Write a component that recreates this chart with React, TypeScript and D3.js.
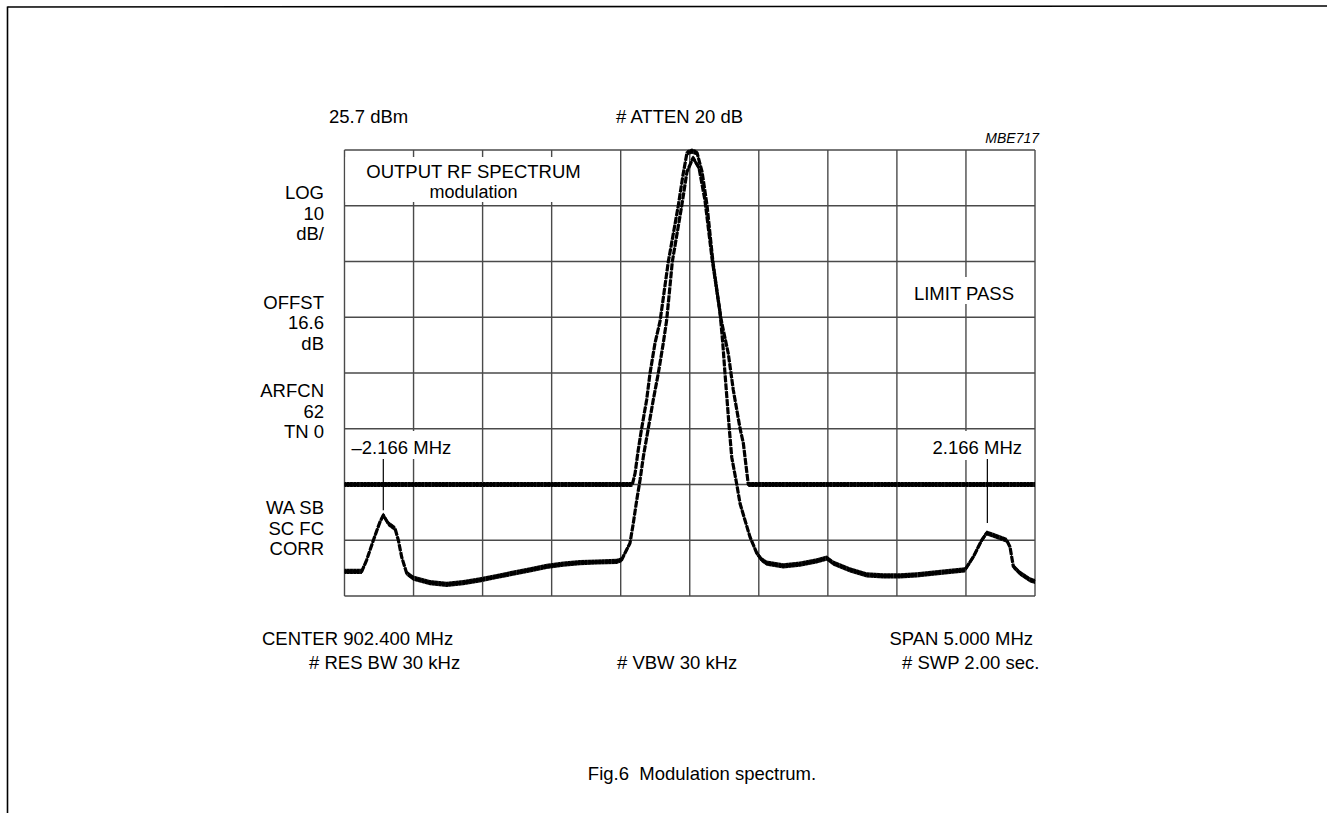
import React from "react";
import * as d3 from "d3";

// ---------- data ----------
const spanMHz = [-2.5, 2.5];
const levelDBm = [-54.3, 25.7];
const gridStepMHz = 0.5;
const gridStepDB = 10;

const spectrumMHz = [
  -2.5, -2.375, -2.339, -2.291, -2.243, -2.219, -2.183, -2.134, -2.11, -2.086, -2.05, -2.002,
  -1.881, -1.76, -1.64, -1.519, -1.398, -1.278, -1.157, -1.036, -0.916, -0.795, -0.674, -0.529,
  -0.493, -0.457, -0.433, -0.409, -0.384, -0.36, -0.336, -0.3, -0.264, -0.228, -0.192, -0.167,
  -0.126, -0.058, -0.02, 0.024, 0.067, 0.11, 0.161, 0.219, 0.239, 0.255, 0.286, 0.304, 0.34,
  0.364, 0.436, 0.485, 0.521, 0.557, 0.677, 0.798, 0.919, 0.992, 1.04, 1.16, 1.281, 1.402,
  1.522, 1.643, 1.764, 1.885, 1.993, 2.053, 2.114, 2.15, 2.198, 2.295, 2.319, 2.343, 2.391,
  2.464, 2.5,
];
const spectrumDBm = [
  -49.9, -49.9, -47.8, -44.3, -41.0, -39.8, -41.3, -42.2, -44.3, -47.3, -50.2, -51.1,
  -51.9, -52.2, -51.9, -51.4, -50.8, -50.2, -49.6, -49.0, -48.6, -48.3, -48.2, -48.1,
  -47.8, -46.0, -44.85, -41.3, -37.1, -33.5, -29.3, -24.2, -19.1, -14.4, -9.0, -4.8,
  5.7, 15.7, 21.8, 24.3, 22.5, 16.7, 6.3, -3.4, -8.9, -14.3, -24.2, -29.4, -34.2,
  -37.7, -43.7, -46.6, -47.8, -48.4, -48.9, -48.6, -48.0, -47.5, -48.4, -49.6, -50.5, -50.7,
  -50.7, -50.5, -50.2, -49.9, -49.6, -47.3, -44.3, -43.0, -43.4, -44.3, -45.5, -49.0, -50.2,
  -51.4, -51.7,
];

const limitMHz = [
  -2.5, -0.416, -0.396, -0.373, -0.348, -0.312, -0.288, -0.252, -0.215, -0.155, -0.083, -0.049,
  -0.02, 0.016, 0.053, 0.089, 0.125, 0.168, 0.224, 0.243, 0.279, 0.315, 0.364, 0.388, 0.424, 2.5,
];
const limitDBm = [
  -34.3, -34.3, -32.3, -28.1, -24.2, -19.1, -14.4, -9.0, -5.0, 5.7, 15.7, 21.2,
  25.2, 25.5, 25.2, 21.8, 15.8, 5.6, -4.3, -6.6, -10.8, -17.3, -24.2, -26.9, -34.3, -34.3,
];

const markerMHz = [-2.219, 2.155];
const markerDBm = [-38.9, -41.2];
const markerLabels = ["\u20132.166 MHz", "2.166 MHz"];

const headerLabels = ["25.7 dBm", "# ATTEN 20 dB"];
const figCode = "MBE717";
const titleLines = ["OUTPUT RF SPECTRUM", "modulation"];
const leftLabelGroups = [
  ["LOG", "10", "dB/"],
  ["OFFST", "16.6", "dB"],
  ["ARFCN", "62", "TN 0"],
  ["WA SB", "SC FC", "CORR"],
];
const statusLabel = "LIMIT PASS";
const footerRow1 = ["CENTER 902.400 MHz", "SPAN 5.000 MHz"];
const footerRow2 = ["# RES BW 30 kHz", "# VBW 30 kHz", "# SWP 2.00 sec."];
const caption = "Fig.6  Modulation spectrum.";

// ---------- layout ----------
const W = 1327;
const H = 813;
const X0 = 344.5;
const X1 = 1035;
const Y0 = 150;
const Y1 = 596;
const FONT = "'Liberation Sans', Arial, Helvetica, sans-serif";
const FS = 18.5;
const GRID = "#4a4a4a";

export default function App() {
  const x = d3.scaleLinear().domain(spanMHz).range([X0, X1]);
  const y = d3.scaleLinear().domain(levelDBm).range([Y1, Y0]);

  const vTicks = d3.range(spanMHz[0], spanMHz[1] + 1e-6, gridStepMHz);
  const hTicks = d3.range(levelDBm[0], levelDBm[1] + 1e-6, gridStepDB);

  const spec: [number, number][] = spectrumMHz.map((f, i) => [f, spectrumDBm[i]]);
  const lim: [number, number][] = limitMHz.map((f, i) => [f, limitDBm[i]]);

  const line = d3
    .line<[number, number]>()
    .x((d) => x(d[0]))
    .y((d) => y(d[1]));
  const band = d3
    .area<[number, number]>()
    .x((d) => x(d[0]))
    .y0((d) => y(d[1]) - 2.6)
    .y1((d) => y(d[1]) + 2.6);

  const leftBaselines = [
    [199, 219.5, 240],
    [308.5, 329, 349.5],
    [397, 417.5, 438],
    [514, 534.5, 555],
  ];

  const trace = (data: [number, number][], key: string) => (
    <g key={key}>
      <path d={band(data) || ""} fill="url(#hatch)" stroke="none" />
      <path
        d={line(data) || ""}
        fill="none"
        stroke="#000"
        strokeWidth={3.2}
        strokeLinejoin="round"
        strokeDasharray="7 1"
      />
    </g>
  );

  return (
    <svg
      width={W}
      height={H}
      style={{ position: "absolute", left: 0, top: 0, background: "#fff" }}
      fontFamily={FONT}
    >
      <defs>
        <pattern id="hatch" patternUnits="userSpaceOnUse" width={3.4} height={20}>
          <rect x={0} y={0} width={3.4} height={20} fill="#000" />
          <rect x={2.8} y={0} width={0.6} height={20} fill="#555" />
        </pattern>
      </defs>
      <rect x={0} y={0} width={W} height={H} fill="#fff" />
      {/* page frame */}
      <line x1={7.5} y1={7} x2={W} y2={6} stroke="#000" strokeWidth={1.6} />
      <line x1={7.5} y1={6.5} x2={7.5} y2={H} stroke="#000" strokeWidth={1.6} />

      {/* grid */}
      {vTicks.map((t, i) => (
        <line key={"v" + i} x1={x(t)} x2={x(t)} y1={Y0} y2={Y1} stroke={GRID} strokeWidth={1.4} />
      ))}
      {hTicks.map((t, i) => (
        <line key={"h" + i} x1={X0} x2={X1} y1={y(t)} y2={y(t)} stroke={GRID} strokeWidth={1.4} />
      ))}

      {/* masking boxes behind text */}
      <rect x={X0 + 1} y={157} width={260} height={45} fill="#fff" />
      <rect x={907} y={277} width={112} height={27} fill="#fff" />
      <rect x={348} y={431} width={110} height={28} fill="#fff" />
      <rect x={927} y={431} width={98} height={29} fill="#fff" />

      {/* header */}
      <text x={329} y={123} fontSize={FS}>{headerLabels[0]}</text>
      <text x={616} y={123} fontSize={FS}>{headerLabels[1]}</text>
      <text x={1039} y={142.5} fontSize={14} fontStyle="italic" textAnchor="end">{figCode}</text>

      {/* title inside grid */}
      <text x={473.5} y={177.5} fontSize={FS} textAnchor="middle">{titleLines[0]}</text>
      <text x={473.5} y={198} fontSize={18} textAnchor="middle">{titleLines[1]}</text>

      {/* left labels */}
      {leftLabelGroups.map((g, gi) =>
        g.map((s, si) => (
          <text key={gi + "-" + si} x={324} y={leftBaselines[gi][si]} fontSize={FS} textAnchor="end">
            {s}
          </text>
        ))
      )}

      <text x={1014} y={300} fontSize={FS} textAnchor="end">{statusLabel}</text>

      {/* marker labels */}
      <text x={351.5} y={454} fontSize={FS}>{markerLabels[0]}</text>
      <text x={1022} y={454} fontSize={FS} textAnchor="end">{markerLabels[1]}</text>

      {/* traces */}
      {trace(lim, "lim")}
      {trace(spec, "spec")}

      {/* markers */}
      {markerMHz.map((f, i) => (
        <line key={"m" + i} x1={x(f)} x2={x(f)} y1={459} y2={y(markerDBm[i])} stroke="#000" strokeWidth={1.2} />
      ))}

      {/* footer */}
      <text x={262} y={645} fontSize={FS}>{footerRow1[0]}</text>
      <text x={1033} y={645} fontSize={FS} textAnchor="end">{footerRow1[1]}</text>
      <text x={309} y={669} fontSize={FS}>{footerRow2[0]}</text>
      <text x={617} y={669} fontSize={FS}>{footerRow2[1]}</text>
      <text x={902} y={669} fontSize={FS}>{footerRow2[2]}</text>

      <text x={702} y={780} fontSize={FS} textAnchor="middle" style={{ whiteSpace: "pre" }}>
        {caption}
      </text>
    </svg>
  );
}
